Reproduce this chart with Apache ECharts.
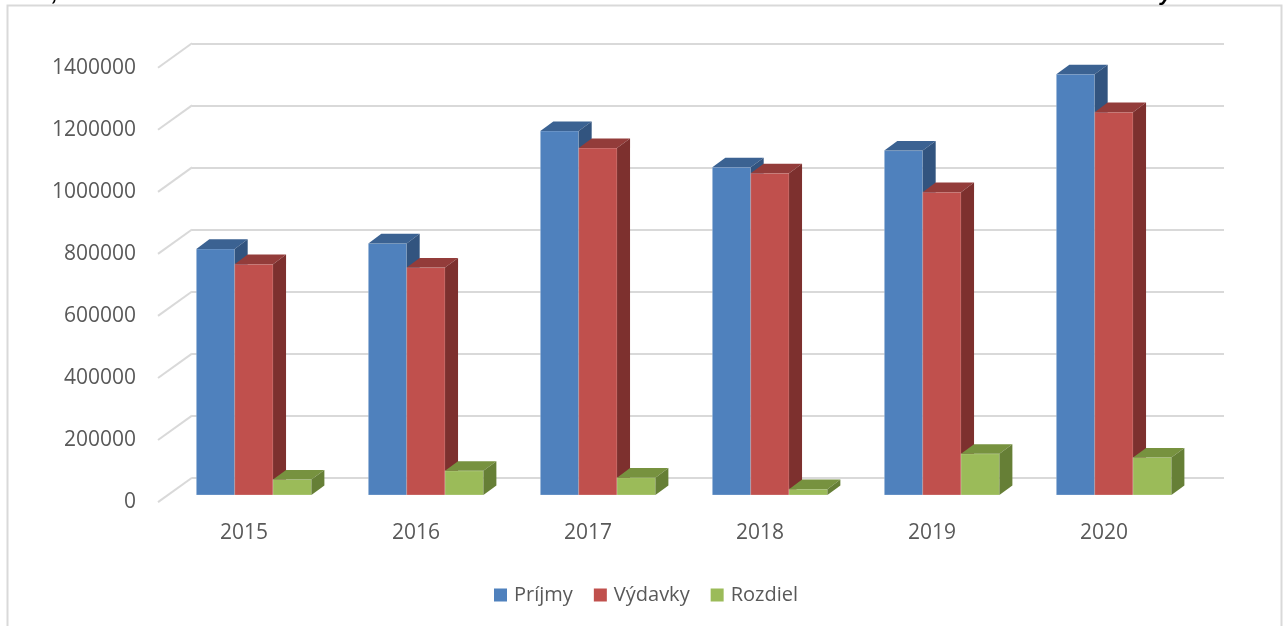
<!DOCTYPE html>
<html>
<head>
<meta charset="utf-8">
<script src="https://cdn.jsdelivr.net/npm/echarts@6/dist/echarts.min.js"></script>
<style>
  html, body { margin: 0; padding: 0; background: #fff; }
  #chart { width: 1284px; height: 626px; }
</style>
</head>
<body>
<div id="chart"></div>
<script>
// data
const years = ['2015', '2016', '2017', '2018', '2019', '2020']
const prijmy = [793000, 811000, 1173000, 1056000, 1110000, 1356000]
const vydavky = [744000, 733000, 1118000, 1037000, 976000, 1234000]
const rozdiel = [50000, 78000, 56000, 19000, 133000, 121000]
const yTicks = [0, 200000, 400000, 600000, 800000, 1000000, 1200000, 1400000]

// colours: front, top, side
const palette = [
  ['#4f81bd', '#3b6292', '#32547f'],
  ['#c0504d', '#933c3a', '#7d302e'],
  ['#9bbb59', '#77923f', '#667f36']
]

// fake 3d geometry (oblique projection)
const WALL = { left: 192, top: 43.3, width: 1032, height: 434.4 }
const FLOOR_DX = 34, FLOOR_DY = 24.4   // back wall -> front edge of floor
const BAR_PLANE = 0.71                 // where the bar fronts sit in depth
const DEPTH_X = 13, DEPTH_Y = 9.6      // bar depth
const BAR_RATIO = 0.223                // bar width / category width

const textColor = '#595959'
const font = "'Open Sans', 'Noto Sans', sans-serif"

const chart = echarts.init(document.getElementById('chart'))

function gridAt(f) {
  return {
    left: WALL.left - FLOOR_DX * f,
    top: WALL.top + FLOOR_DY * f,
    width: WALL.width,
    height: WALL.height
  }
}

function barRenderer(idx) {
  const c = palette[idx]
  return function (params, api) {
    const cat = api.value(0)
    const base = api.coord([cat, 0])
    const top = api.coord([cat, api.value(1)])
    const barW = api.size([1, 0])[0] * BAR_RATIO
    const x0 = base[0] - 1.5 * barW + idx * barW
    const x1 = x0 + barW
    const y0 = base[1], y1 = top[1]
    return {
      type: 'group',
      children: [
        { type: 'rect', shape: { x: x0, y: y1, width: barW, height: y0 - y1 },
          style: { fill: c[0], stroke: 'rgba(255,255,255,0.25)', lineWidth: 1 } },
        { type: 'polygon', shape: { points: [[x0, y1], [x0 + DEPTH_X, y1 - DEPTH_Y], [x1 + DEPTH_X, y1 - DEPTH_Y], [x1, y1]] },
          style: { fill: c[1] } },
        { type: 'polygon', shape: { points: [[x1, y1], [x1 + DEPTH_X, y1 - DEPTH_Y], [x1 + DEPTH_X, y0 - DEPTH_Y], [x1, y0]] },
          style: { fill: c[2] } }
      ]
    }
  }
}

function yAxisBase(gridIndex) {
  return {
    type: 'value', gridIndex, min: 0, max: 1400000, interval: 200000,
    axisLine: { show: false }, axisTick: { show: false },
    axisLabel: { show: false }, splitLine: { show: false }
  }
}

function xAxisBase(gridIndex) {
  return {
    type: 'category', gridIndex, data: years,
    axisLine: { show: false }, axisTick: { show: false },
    axisLabel: { show: false }, splitLine: { show: false }
  }
}

const backY = yAxisBase(0)
backY.splitLine = { show: true, lineStyle: { color: '#d9d9d9', width: 2 } }

const frontY = yAxisBase(2)
frontY.axisLabel = {
  show: true, color: textColor, fontSize: 21, fontFamily: font, margin: 22,
  formatter: v => String(v)
}

const frontX = xAxisBase(2)
frontX.axisLabel = { show: true, color: textColor, fontSize: 21, fontFamily: font, margin: 20 }

const seriesData = [prijmy, vydavky, rozdiel]
const names = ['Príjmy', 'Výdavky', 'Rozdiel']

const option = {
  animation: false,
  backgroundColor: '#fff',
  graphic: [
    { type: 'rect', shape: { x: 7.5, y: 5.5, width: 1274, height: 700 },
      style: { fill: 'none', stroke: '#d9d9d9', lineWidth: 2 }, silent: true },
    { type: 'text', left: 52, top: -17,
      style: { text: ',', fill: '#000', font: "italic bold 22px 'Liberation Sans'" } },
    { type: 'text', left: 1160, top: -17,
      style: { text: 'y', fill: '#000', font: "italic bold 22px 'Liberation Sans'" } }
  ],
  grid: [gridAt(0), gridAt(BAR_PLANE), gridAt(1)],
  xAxis: [xAxisBase(0), xAxisBase(1), frontX],
  yAxis: [backY, yAxisBase(1), frontY],
  legend: {
    data: names,
    left: 489,
    top: 580,
    icon: 'rect',
    itemWidth: 13,
    itemHeight: 13,
    itemGap: 21,
    textStyle: { color: textColor, fontSize: 20, fontFamily: font, padding: [0, 0, 0, 2] }
  },
  series: [
    {
      // diagonal lines of the side wall
      type: 'custom',
      xAxisIndex: 0, yAxisIndex: 0,
      silent: true,
      data: yTicks.map(v => [0, v]),
      renderItem: function (params, api) {
        const p = api.coord([0, api.value(1)])
        const x = params.coordSys.x
        return {
          type: 'line',
          shape: { x1: x, y1: p[1], x2: x - FLOOR_DX, y2: p[1] + FLOOR_DY },
          style: { stroke: '#d9d9d9', lineWidth: 2 }
        }
      }
    }
  ].concat(names.map((name, i) => ({
    name,
    type: 'custom',
    xAxisIndex: 1, yAxisIndex: 1,
    itemStyle: { color: palette[i][0] },
    data: seriesData[i].map((v, j) => [j, v]),
    renderItem: barRenderer(i)
  })))
}

chart.setOption(option)
</script>
</body>
</html>
